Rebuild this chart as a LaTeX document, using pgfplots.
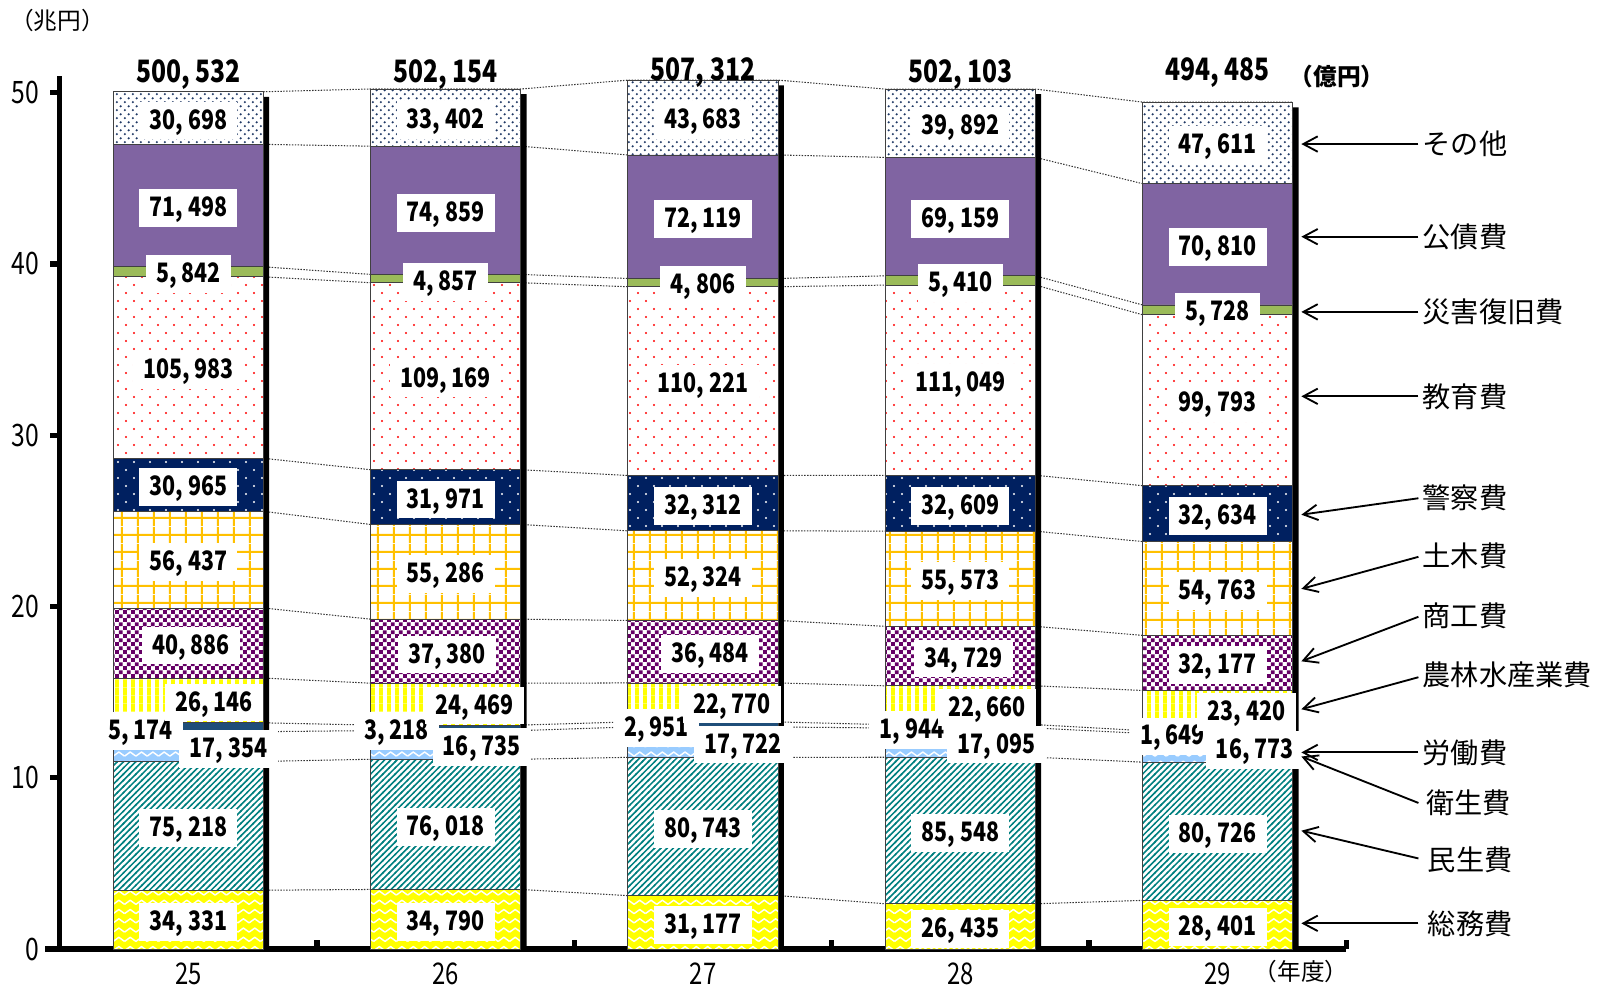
\documentclass[border=0pt]{standalone}
\usepackage{fontspec}
\setmainfont{Noto Sans CJK JP}
\newfontfamily\numf[FakeStretch=0.8]{Noto Sans CJK JP}
\usepackage{pgfplots}
\usepackage{pgfplotstable}
\pgfplotsset{compat=1.18}
\usetikzlibrary{patterns.meta,arrows.meta}

\definecolor{cYel}{HTML}{FFFF00}
\definecolor{cTeal}{HTML}{008080}
\definecolor{cLBlue}{HTML}{99CCFF}
\definecolor{cLabor}{HTML}{1F4E79}
\definecolor{cChk}{HTML}{660066}
\definecolor{cOrg}{HTML}{FFC000}
\definecolor{cNavy}{HTML}{002060}
\definecolor{cRed}{HTML}{FF0000}
\definecolor{cGreen}{HTML}{9BBB59}
\definecolor{cPurp}{HTML}{8064A2}
\definecolor{cDots}{HTML}{1F3864}

\tikzdeclarepattern{name=zz, type=uncolored,
  bottom left={(-0.5pt,-0.5pt)}, top right={(6pt,5pt)}, tile size={(5.5pt,4.5pt)},
  code={\draw[line width=0.7pt, line join=round] (0pt,1.2pt) -- (2.75pt,3.2pt) -- (5.5pt,1.2pt);}}
\tikzdeclarepattern{name=hatch, type=uncolored,
  bottom left={(-0.5pt,-0.5pt)}, top right={(3.5pt,3.5pt)}, tile size={(3pt,3pt)},
  code={\draw[line width=0.75pt] (-0.5pt,-0.5pt) -- (3.5pt,3.5pt);}}
\tikzdeclarepattern{name=vstripe, type=uncolored,
  bottom left={(0pt,0pt)}, top right={(4pt,4pt)}, tile size={(4pt,4pt)},
  code={\fill (0pt,0pt) rectangle (2pt,4pt);}}
\tikzdeclarepattern{name=checker, type=uncolored,
  bottom left={(0pt,0pt)}, top right={(4pt,4pt)}, tile size={(4pt,4pt)},
  code={\fill (0pt,0pt) rectangle (2pt,2pt); \fill (2pt,2pt) rectangle (4pt,4pt);}}
\tikzdeclarepattern{name=grid8, type=uncolored,
  bottom left={(0pt,0pt)}, top right={(8pt,8pt)}, tile size={(8pt,8pt)},
  code={\draw[line width=1pt] (0pt,4pt) -- (8pt,4pt); \draw[line width=1pt] (4pt,0pt) -- (4pt,8pt);}}
\tikzdeclarepattern{name=dotsA, type=uncolored,
  bottom left={(0pt,0pt)}, top right={(8pt,8pt)}, tile size={(8pt,8pt)},
  code={\fill (2pt,2pt) circle (0.55pt); \fill (6pt,6pt) circle (0.55pt);}}
\tikzdeclarepattern{name=dotsB, type=uncolored,
  bottom left={(0pt,0pt)}, top right={(4pt,4pt)}, tile size={(4pt,4pt)},
  code={\fill (1pt,1pt) circle (0.62pt); \fill (3pt,3pt) circle (0.62pt);}}

% values in oku-yen
\pgfplotstableread{
x somu minsei eisei roudou nourin shoukou doboku keisatsu kyouiku saigai kousai sonota total
0 34331 75218 17354 5174 26146 40886 56437 30965 105983 5842 71498 30698 500532
1 34790 76018 16735 3218 24469 37380 55286 31971 109169 4857 74859 33402 502154
2 31177 80743 17722 2951 22770 36484 52324 32312 110221 4806 72119 43683 507312
3 26435 85548 17095 1944 22660 34729 55573 32609 111049 5410 69159 39892 502103
4 28401 80726 16773 1649 23420 32177 54763 32634 99793 5728 70810 47611 494485
}\data

% cumulative tops, at left and right edge of each bar (series lines)
\pgfplotstableread{
x c1 c2 c3 c4 c5 c6 c7 c8 c9 c10 c11 c12
-0.292 34331 109549 126903 132077 158223 199109 255546 286511 392494 398336 469834 500532
0.292 34331 109549 126903 132077 158223 199109 255546 286511 392494 398336 469834 500532
0.708 34790 110808 127543 130761 155230 192610 247896 279867 389036 393893 468752 502154
1.292 34790 110808 127543 130761 155230 192610 247896 279867 389036 393893 468752 502154
1.708 31177 111920 129642 132593 155363 191847 244171 276483 386704 391510 463629 507312
2.292 31177 111920 129642 132593 155363 191847 244171 276483 386704 391510 463629 507312
2.708 26435 111983 129078 131022 153682 188411 243984 276593 387642 393052 462211 502103
3.292 26435 111983 129078 131022 153682 188411 243984 276593 387642 393052 462211 502103
3.708 28401 109127 125900 127549 150969 183146 237909 270543 370336 376064 446874 494485
4.292 28401 109127 125900 127549 150969 183146 237909 270543 370336 376064 446874 494485
}\cum

\tikzset{
  lab/.style={fill=white, inner xsep=5pt, inner ysep=4pt, text height=9.3pt, text depth=1pt,
    yshift=-1.2pt, font=\numf\bfseries\fontsize{13}{13}\selectfont},
  tot/.style={inner sep=0pt, font=\numf\bfseries\fontsize{15}{15}\selectfont},
  rl/.style={anchor=west, inner sep=0pt, font=\fontsize{13.7}{13.7}\selectfont},
  arr/.style={line width=0.9pt, -{Straight Barb[length=7pt,width=7.5pt]}},
}
\newcommand\lab[3]{\node[lab] at (axis cs:#1,#2) {#3};}
\pgfplotsset{samegeom/.style={at={(0pt,0pt)}, anchor=south west, scale only axis,
  width=625pt, height=424.3pt, xmin=-0.5, xmax=4.5, ymin=0, ymax=51, clip=false}}

\begin{document}
\begin{tikzpicture}
\path[use as bounding box] (-29pt,-20pt) rectangle (755pt,461pt);

% layer 1: series lines and bar shadows
\begin{axis}[samegeom, hide axis]
\pgfplotsinvokeforeach{c1,c2,c3,c4,c5,c6,c7,c8,c9,c10,c11,c12}{
  \addplot[black!80, line width=0.5pt, dash pattern=on 0.7pt off 0.7pt, mark=none]
    table[x=x, y expr=\thisrow{#1}/10000] {\cum};
}
\addplot[ybar, bar width=0.584, bar shift=0.022, fill=black, draw=none]
  table[x=x, y expr=\thisrow{total}/10000-0.3] {\data};
\end{axis}

% layer 2: stacked bars and axes
\begin{axis}[samegeom, ybar stacked, bar width=0.584,
  axis x line*=bottom, axis y line*=left,
  axis line style={line width=2.5pt, black},
  ytick={0,10,...,50}, tick align=outside, major tick length=4.5pt,
  tick style={line width=2.5pt, black},
  xtick={0,...,4}, xticklabels={25,26,27,28,29},
  major x tick style={opacity=0},
  ticklabel style={font=\numf\fontsize{15}{15}\selectfont},
  xticklabel style={font=\numf\fontsize{14.5}{14.5}\selectfont, yshift=1.5pt},
  /pgf/number format/assume math mode=true,
  yticklabel style={xshift=-2pt},
]
\addplot[fill=cYel, draw=black!75, line width=0.4pt, postaction={pattern=zz, pattern color=white}]
  table[x=x, y expr=\thisrow{somu}/10000] {\data};
\addplot[fill=white, draw=black!75, line width=0.4pt, postaction={pattern=hatch, pattern color=cTeal}]
  table[x=x, y expr=\thisrow{minsei}/10000] {\data};
\addplot[fill=cLBlue, draw=black!75, line width=0.4pt, postaction={pattern=zz, pattern color=white}]
  table[x=x, y expr=\thisrow{eisei}/10000] {\data};
\addplot[fill=cLabor, draw=black!75, line width=0.4pt]
  table[x=x, y expr=\thisrow{roudou}/10000] {\data};
\addplot[fill=white, draw=black!75, line width=0.4pt, postaction={pattern=vstripe, pattern color=cYel}]
  table[x=x, y expr=\thisrow{nourin}/10000] {\data};
\addplot[fill=white, draw=black!75, line width=0.4pt, postaction={pattern=checker, pattern color=cChk}]
  table[x=x, y expr=\thisrow{shoukou}/10000] {\data};
\addplot[fill=white, draw=black!75, line width=0.4pt, postaction={pattern=grid8, pattern color=cOrg}]
  table[x=x, y expr=\thisrow{doboku}/10000] {\data};
\addplot[fill=cNavy, draw=black!75, line width=0.4pt, postaction={pattern=dotsA, pattern color=white}]
  table[x=x, y expr=\thisrow{keisatsu}/10000] {\data};
\addplot[fill=white, draw=black!75, line width=0.4pt, postaction={pattern=dotsA, pattern color=cRed}]
  table[x=x, y expr=\thisrow{kyouiku}/10000] {\data};
\addplot[fill=cGreen, draw=black!75, line width=0.4pt]
  table[x=x, y expr=\thisrow{saigai}/10000] {\data};
\addplot[fill=cPurp, draw=black!75, line width=0.4pt]
  table[x=x, y expr=\thisrow{kousai}/10000] {\data};
\addplot[fill=white, draw=black!75, line width=0.4pt, postaction={pattern=dotsB, pattern color=cDots}]
  table[x=x, y expr=\thisrow{sonota}/10000] {\data};

% x axis boundary ticks and left overhang
\draw[line width=2.5pt] (axis cs:-0.5,0) -- ++(-7pt,0pt);
\pgfplotsinvokeforeach{0.5,1.5,2.5,3.5,4.5}{
  \draw[line width=2.5pt] (axis cs:#1,0) -- ++(0pt,4.5pt);
}
\end{axis}

% layer 3: labels and annotations
\begin{axis}[samegeom, hide axis]
% year 25
\lab{0}{1.717}{34, 331}
\lab{0}{7.194}{75, 218}
\lab{-0.185}{12.86}{5, 174}
\lab{0.156}{11.84}{17, 354}
\lab{0.1}{14.54}{26, 146}
\lab{0.01}{17.867}{40, 886}
\lab{0}{22.733}{56, 437}
\lab{0}{27.103}{30, 965}
\lab{0}{33.95}{105, 983}
\lab{0}{39.54}{5, 842}
\lab{0}{43.41}{71, 498}
\lab{0}{48.52}{30, 698}
% year 26
\lab{1}{1.74}{34, 790}
\lab{1}{7.28}{76, 018}
\lab{0.808}{12.86}{3, 218}
\lab{1.14}{11.96}{16, 735}
\lab{1.112}{14.36}{24, 469}
\lab{1.005}{17.34}{37, 380}
\lab{1}{22.03}{55, 286}
\lab{1}{26.39}{31, 971}
\lab{1}{33.45}{109, 169}
\lab{1}{39.1}{4, 857}
\lab{1}{43.13}{74, 859}
\lab{1}{48.55}{33, 402}
% year 27
\lab{2}{1.56}{31, 177}
\lab{2}{7.16}{80, 743}
\lab{1.82}{13.04}{2, 951}
\lab{2.156}{12.08}{17, 722}
\lab{2.112}{14.42}{22, 770}
\lab{2.028}{17.36}{36, 484}
\lab{2}{21.8}{52, 324}
\lab{2}{26.03}{32, 312}
\lab{2}{33.16}{110, 221}
\lab{2}{38.91}{4, 806}
\lab{2}{42.76}{72, 119}
\lab{2}{48.55}{43, 683}
% year 28
\lab{3}{1.32}{26, 435}
\lab{3}{6.92}{85, 548}
\lab{2.812}{12.92}{1, 944}
\lab{3.14}{12.08}{17, 095}
\lab{3.104}{14.24}{22, 660}
\lab{3.012}{17.1}{34, 729}
\lab{3}{21.62}{55, 573}
\lab{3}{26.03}{32, 609}
\lab{3}{33.21}{111, 049}
\lab{3}{39.03}{5, 410}
\lab{3}{42.76}{69, 159}
\lab{3}{48.22}{39, 892}
% year 29
\lab{4}{1.42}{28, 401}
\lab{4}{6.88}{80, 726}
\lab{3.824}{12.56}{1, 649}
\lab{4.144}{11.78}{16, 773}
\lab{4.112}{14.0}{23, 420}
\lab{4}{16.71}{32, 177}
\lab{4}{21.05}{54, 763}
\lab{4}{25.42}{32, 634}
\lab{4}{32.04}{99, 793}
\lab{4}{37.32}{5, 728}
\lab{4}{41.15}{70, 810}
\lab{4}{47.07}{47, 611}

% totals
\node[tot] at (axis cs:0,51.05) {500, 532};
\node[tot] at (axis cs:1,51.05) {502, 154};
\node[tot] at (axis cs:2,51.15) {507, 312};
\node[tot] at (axis cs:3,51.05) {502, 103};
\node[tot] at (axis cs:4,51.15) {494, 485};
\node[inner sep=0pt, font=\bfseries\fontsize{11.5}{11.5}\selectfont] at (axis cs:4.464,50.95) {（億円）};
\node[inner sep=0pt, font=\fontsize{11.5}{11.5}\selectfont] at (axis cs:-0.508,54.2) {（兆円）};
\node[inner sep=0pt, font=\fontsize{11.5}{11.5}\selectfont] at (axis cs:4.324,-1.3) {（年度）};

% right-side annotations
\draw[arr] (axis cs:4.78,47.0) -- (axis cs:4.325,47.0);
\node[rl] at (axis cs:4.795,47.0) {その他};
\draw[arr] (axis cs:4.78,41.59) -- (axis cs:4.325,41.59);
\node[rl] at (axis cs:4.795,41.59) {公債費};
\draw[arr] (axis cs:4.78,37.2) -- (axis cs:4.325,37.2);
\node[rl] at (axis cs:4.795,37.2) {災害復旧費};
\draw[arr] (axis cs:4.78,32.27) -- (axis cs:4.325,32.27);
\node[rl] at (axis cs:4.795,32.27) {教育費};
\draw[arr] (axis cs:4.78,26.32) -- (axis cs:4.325,25.36);
\node[rl] at (axis cs:4.795,26.32) {警察費};
\draw[arr] (axis cs:4.78,22.9) -- (axis cs:4.325,21.03);
\node[rl] at (axis cs:4.795,22.96) {土木費};
\draw[arr] (axis cs:4.78,19.4) -- (axis cs:4.325,16.8);
\node[rl] at (axis cs:4.795,19.47) {商工費};
\draw[arr] (axis cs:4.78,15.87) -- (axis cs:4.325,14.0);
\node[rl] at (axis cs:4.795,15.99) {農林水産業費};
\draw[arr] (axis cs:4.78,11.48) -- (axis cs:4.325,11.48);
\node[rl] at (axis cs:4.795,11.48) {労働費};
\draw[arr] (axis cs:4.78,8.53) -- (axis cs:4.325,11.24);
\node[rl] at (axis cs:4.81,8.53) {衛生費};
\draw[arr] (axis cs:4.78,5.29) -- (axis cs:4.325,6.91);
\node[rl] at (axis cs:4.815,5.23) {民生費};
\draw[arr] (axis cs:4.78,1.5) -- (axis cs:4.325,1.5);
\node[rl] at (axis cs:4.815,1.5) {総務費};
\end{axis}
\end{tikzpicture}
\end{document}
